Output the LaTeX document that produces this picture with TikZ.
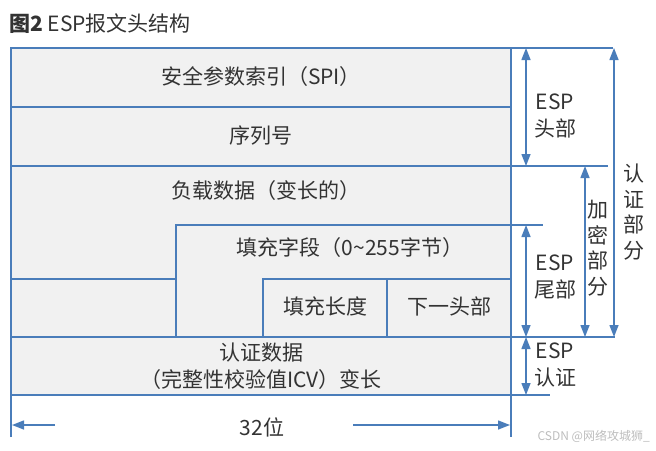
\documentclass[tikz,border=0pt]{standalone}
\usepackage{fontspec}
\setmainfont{Noto Sans CJK SC}
\usetikzlibrary{arrows.meta}
\definecolor{lc}{HTML}{4A7DBA}
\definecolor{bg}{HTML}{F1F1F1}
\definecolor{tc}{HTML}{333333}
\definecolor{wm}{HTML}{BDBDBD}
\newcommand\mainfs{\fontsize{21}{27}\selectfont}
\newcommand\vertfs{\fontsize{21}{25.5}\selectfont}
\begin{document}
\begin{tikzpicture}[x=1pt,y=-1pt,
  ln/.style={draw=lc,line width=1.4pt},
  tip/.tip={Triangle[length=12pt,width=9pt]},
  dblarr/.style={draw=lc,line width=1.4pt,tip-tip},
  onearr/.style={draw=lc,line width=1.4pt,-tip},
  lbl/.style={text=tc,font=\mainfs,inner sep=0pt,align=center},
  vlbl/.style={text=tc,font=\vertfs,inner sep=0pt,align=center},
]
\useasboundingbox (0,0) rectangle (656,450);
% title
\node[lbl,anchor=west,font=\fontsize{21}{25}\selectfont] (title) at (9,24) {\textbf{图2} ESP报文头结构};
% table background
\fill[bg] (11,48) rectangle (511,395);
% coordinates
\coordinate (tl) at (11,48);
\coordinate (tr) at (511,48);
\coordinate (bl) at (11,437);
\coordinate (br) at (511,437);
% grid lines
\draw[ln] (bl) -- (tl) -- (613,48);
\draw[ln] (tr) -- (br);
\draw[ln] (11,107) -- (511,107);
\draw[ln] (11,166) -- (608,166);
\draw[ln] (11,279) -- (176,279);
\draw[ln] (176,337) -- (176,225) -- (543,225);
\draw[ln] (263,337) -- (263,279) -- (511,279);
\draw[ln] (387,279) -- (387,337);
\draw[ln] (11,337) -- (615,337);
\draw[ln] (11,395) -- (550,395);
% cell texts
\node[lbl] (spi) at (261,77) {安全参数索引（SPI）};
\node[lbl] (seq) at (261,136) {序列号};
\node[lbl] (payload) at (266,191) {负载数据（变长的）};
\node[lbl] (pad) at (350,248) {填充字段（0\textasciitilde255字节）};
\node[lbl] (padlen) at (325,306) {填充长度};
\node[lbl] (next) at (449,306) {下一头部};
\node[lbl] (icv) at (261,366) {认证数据\\（完整性校验值ICV）变长};
% right-side arrows
\coordinate (h1) at (526,48);
\coordinate (h2) at (526,166);
\draw[dblarr] (h1) -- (h2);
\node[lbl] (esph) at (555,116) {ESP\\头部};
\coordinate (t1) at (526,225);
\coordinate (t2) at (526,337);
\draw[dblarr] (t1) -- (t2);
\node[lbl] (espt) at (555,277) {ESP\\尾部};
\coordinate (a1) at (526,337);
\coordinate (a2) at (526,395);
\draw[dblarr] (a1) -- (a2);
\node[lbl] (espa) at (555,365) {ESP\\认证};
\coordinate (e1) at (585,166);
\coordinate (e2) at (585,337);
\draw[dblarr] (e1) -- (e2);
\node[vlbl] (enc) at (598,248) {加\\密\\部\\分};
\coordinate (v1) at (614,48);
\coordinate (v2) at (614,337);
\draw[dblarr] (v1) -- (v2);
\node[vlbl] (auth) at (634,212) {认\\证\\部\\分};
% width arrows
\node[lbl] (w) at (262,427) {32位};
\coordinate (wl0) at (55,425);
\coordinate (wl1) at (12,425);
\coordinate (wr0) at (353,425);
\coordinate (wr1) at (510,425);
\draw[onearr] (wl0) -- (wl1);
\draw[onearr] (wr0) -- (wr1);
% watermark
\node[text=wm,font=\fontsize{12}{14}\selectfont,inner sep=0pt,anchor=east] (mark) at (650,436) {CSDN @网络攻城狮\_};
\end{tikzpicture}
\end{document}
